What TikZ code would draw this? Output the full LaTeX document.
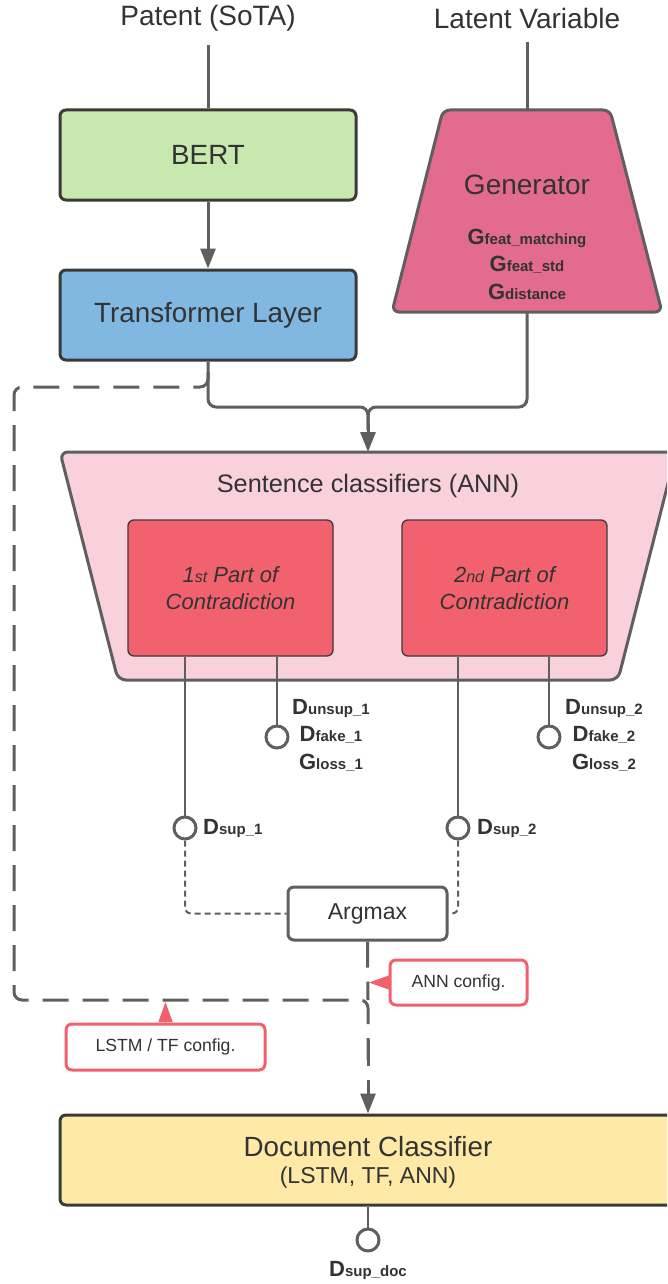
\documentclass[tikz,border=0pt]{standalone}
\usepackage{fontspec}
\setmainfont{Liberation Sans}
\usetikzlibrary{arrows.meta}
\definecolor{ln}{HTML}{5F5F5F}
\definecolor{bd}{HTML}{3A3A3A}
\definecolor{tx}{HTML}{333333}
\definecolor{bertc}{HTML}{C7E8AE}
\definecolor{tlc}{HTML}{80B8E2}
\definecolor{genc}{HTML}{E36B8D}
\definecolor{scc}{HTML}{F9D1DC}
\definecolor{partc}{HTML}{F2626E}
\definecolor{redc}{HTML}{F2606E}
\definecolor{docc}{HTML}{FEE9A7}
\newcommand\fs[1]{\fontsize{#1}{#1}\selectfont}
\newcommand\dlab[2]{{\fs{22}\bfseries #1}{\fs{15}\bfseries #2}}
\begin{document}
\begin{tikzpicture}[x=1pt,y=-1pt,
  every node/.style={text=tx},
  mainbox/.style={draw=bd,line width=3pt,rounded corners=6pt,minimum width=296pt,minimum height=90pt,inner sep=0pt,font=\fs{27.8}},
  partbox/.style={draw=bd,line width=1.3pt,fill=partc,rounded corners=6pt,minimum width=205pt,minimum height=136pt,inner sep=0pt,align=center,font=\fs{22}\itshape},
  cfgbox/.style={draw=redc,line width=3pt,fill=white,rounded corners=6pt,inner sep=0pt,font=\fs{17.6}},
  conn/.style={draw=ln,line width=3pt},
  arr/.style={conn,-{Triangle[length=20pt,width=15pt]}},
  port/.style={circle,draw=ln,line width=3pt,fill=white,minimum size=22pt,inner sep=0pt},
  bigdash/.style={conn,dash pattern=on 26pt off 14pt,rounded corners=8pt},
  smalldash/.style={draw=ln,line width=2pt,dash pattern=on 6pt off 4pt,rounded corners=6pt},
  redarr/.style={draw=redc,line width=1pt,-{Triangle[length=20pt,width=14pt,fill=redc]}}
]
\useasboundingbox (0,0) rectangle (667,1284);
\clip (0,0) rectangle (667,1284);
\fill[white] (0,0) rectangle (667,1284);

% top labels
\node[font=\fs{28}] (patent) at (208,18) {Patent (SoTA)};
\node[font=\fs{28}] (latent) at (527,18) {Latent Variable};

% BERT and Transformer
\node[mainbox,fill=bertc] (bert) at (208,155) {BERT};
\node[mainbox,fill=tlc] (tl) at (208,315) {Transformer Layer};

% Generator
\coordinate (gtop) at (527,110);
\coordinate (gbot) at (527,312);
\filldraw[fill=genc,draw=ln,line width=3pt,rounded corners=7pt]
  (443,110) -- (610,110) -- (662,312) -- (392,312) -- cycle;
\node[font=\fs{28}] (gen) at (527,185) {Generator};
\node (g1) at (527,238) {\dlab{G}{feat\_matching}};
\node (g2) at (527,265) {\dlab{G}{feat\_std}};
\node (g3) at (527,292) {\dlab{G}{distance}};

% Sentence classifiers
\coordinate (sctop) at (368,452);
\filldraw[fill=scc,draw=ln,line width=3pt,rounded corners=8pt]
  (60,452) -- (676,452) -- (618,680) -- (118,680) -- cycle;
\node[font=\fs{25.3}] (sc) at (368,486) {Sentence classifiers (ANN)};
\node[partbox] (p1) at (230.5,588) {1{\fs{16}st} Part of\\[5pt]Contradiction};
\node[partbox] (p2) at (504.5,588) {2{\fs{16}nd} Part of\\[5pt]Contradiction};

% top connectors
\draw[conn] ([yshift=-10pt]patent.south) -- (bert.north);
\draw[conn] ([yshift=-10pt]latent.south) -- (gtop);
\draw[arr] (bert.south) -- (tl.north);
\coordinate (j) at (368,407);
\draw[bigdash] (208,372) -- (208,387) -- (14,387) -- (14,1000) -- (368,1000) -- (368,1060);
\draw[conn,rounded corners=8pt] (tl.south) |- (j) -- (368,430);
\draw[conn,rounded corners=8pt] (gbot) |- (j) -- (368,430);
\draw[arr] (368,425) -- (sctop);

% ports
\node[port] (c1s) at (185,828) {};
\node[port] (c1u) at (277,737) {};
\node[port] (c2s) at (458,828) {};
\node[port] (c2u) at (549,737) {};
\draw[conn,line width=2.5pt] (c1s.north |- p1.south) -- (c1s.north);
\draw[conn,line width=2.5pt] (c1u.north |- p1.south) -- (c1u.north);
\draw[conn,line width=2.5pt] (c2s.north |- p2.south) -- (c2s.north);
\draw[conn,line width=2.5pt] (c2u.north |- p2.south) -- (c2u.north);

\node (l1a) at (331,708) {\dlab{D}{unsup\_1}};
\node (l1b) at (331,735) {\dlab{D}{fake\_1}};
\node (l1c) at (331,763) {\dlab{G}{loss\_1}};
\node (l2a) at (604,708) {\dlab{D}{unsup\_2}};
\node (l2b) at (604,735) {\dlab{D}{fake\_2}};
\node (l2c) at (604,763) {\dlab{G}{loss\_2}};
\node[anchor=west,inner sep=0pt] (s1) at (203,828) {\dlab{D}{sup\_1}};
\node[anchor=west,inner sep=0pt] (s2) at (477,828) {\dlab{D}{sup\_2}};

% Argmax
\node[draw=ln,line width=3pt,fill=white,rounded corners=6pt,minimum width=159pt,minimum height=53pt,inner sep=0pt,font=\fs{23}] (argmax) at (367.5,913.5) {Argmax};
\draw[smalldash] (c1s.south) |- (argmax.west);
\draw[smalldash] (c2s.south) |- (argmax.east);
\draw[bigdash] (argmax.south) -- (368,1000);

% Document classifier
\node[mainbox,fill=docc,minimum width=620pt] (doc) at (370,1160) {};
\node[align=center] (doctxt) at (368,1162) {{\fs{27.8}Document Classifier}\\[9pt]{\fs{23}(LSTM, TF, ANN)}};
\draw[arr,dash pattern=on 26pt off 14pt] (368,1040) -- (doc.north -| 368,0);

% config boxes
\node[cfgbox,minimum width=137pt,minimum height=45pt] (annc) at (458.5,982.5) {ANN config.};
\node[cfgbox,minimum width=199pt,minimum height=46pt] (lstmc) at (165.5,1047) {LSTM / TF config.};
\coordinate (annp) at (369,982.5);
\coordinate (lstmp) at (165.5,1002);
\draw[redarr] (annc.west) -- (annp);
\draw[redarr] (lstmc.north) -- (lstmp);

% doc port
\node[port] (cd) at (368,1240) {};
\draw[conn,line width=2.5pt] (cd.north |- doc.south) -- (cd.north);
\node (ld) at (368,1270) {\dlab{D}{sup\_doc}};
\end{tikzpicture}
\end{document}
